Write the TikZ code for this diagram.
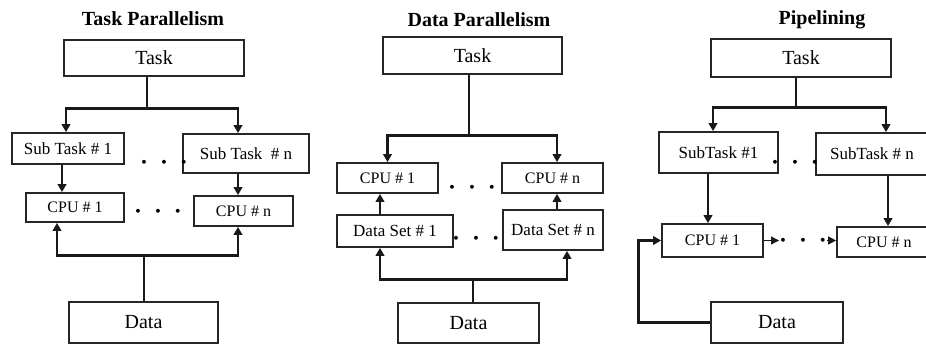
\documentclass[tikz,border=0pt]{standalone}
\usepackage{fontspec}
\setmainfont{Liberation Serif}
\usetikzlibrary{arrows.meta}
\newcommand{\threedots}{$\cdot\hspace{5.5pt}\cdot\hspace{5.5pt}\cdot$}
\begin{document}
\begin{tikzpicture}[x=1pt,y=-1pt,
  box/.style={draw=black!85,line width=1.7pt,inner sep=0pt,fill=white},
  big/.style={font=\fontsize{20}{22}\selectfont},
  mid/.style={font=\fontsize{17}{19}\selectfont},
  sml/.style={font=\fontsize{16}{18}\selectfont},
  ttl/.style={font=\bfseries\fontsize{20}{22}\selectfont,inner sep=0pt},
  conn/.style={line width=2.8pt,black!90},
  arr/.style={-{Triangle[length=8pt,width=8.5pt]}},
  thinarr/.style={line width=1.1pt,black!90,-{Triangle[length=8pt,width=8pt]}},
  dotsn/.style={inner sep=0pt,minimum width=36pt,font=\fontsize{28}{28}\selectfont\boldmath}
]
\useasboundingbox (0,0) rectangle (926,345);

% ---------------- Panel 1: Task Parallelism ----------------
\node[ttl] (t1) at (153,19) {Task Parallelism};
\node[box,big,minimum width=180pt,minimum height=36pt] (task1) at (154,58) {Task};
\node[box,mid,minimum width=112pt,minimum height=31pt] (sub1) at (68,148.5) {Sub Task \# 1};
\node[box,mid,minimum width=126pt,minimum height=39pt] (subn) at (246,153.5) {Sub Task \ \# n};
\node[box,sml,minimum width=98pt,minimum height=29pt] (cpu1) at (75,207.5) {CPU \# 1};
\node[box,sml,minimum width=99pt,minimum height=30pt] (cpun) at (243.5,211) {CPU \# n};
\node[box,big,minimum width=149pt,minimum height=41pt] (data1) at (143.5,322.5) {Data};
\node[dotsn] (d1a) at (164,163) {\threedots};
\node[dotsn] (d1b) at (158,212) {\threedots};

\draw[conn] ([xshift=-7pt]task1.south) -- ++(0,32) coordinate (j1);
\draw[conn,arr] (j1) -| ([xshift=-2pt]sub1.north);
\draw[conn,arr] (j1) -| ([xshift=-8pt]subn.north);
\draw[conn,arr] ([xshift=-6pt]sub1.south) -- ([xshift=-6pt]sub1.south |- cpu1.north);
\draw[conn,arr] ([xshift=-8pt]subn.south) -- ([xshift=-8pt]subn.south |- cpun.north);
\draw[line width=1.3pt,black!90] ([xshift=0.5pt]data1.north) -- ++(0,-46) coordinate (j2);
\draw[conn,arr] (j2) -| ([xshift=-18pt]cpu1.south);
\draw[conn,arr] (j2) -| ([xshift=-5.5pt]cpun.south);

% ---------------- Panel 2: Data Parallelism ----------------
\node[ttl] (t2) at (479,20) {Data Parallelism};
\node[box,big,minimum width=179pt,minimum height=37pt] (task2) at (472.5,55.5) {Task};
\node[box,sml,minimum width=101pt,minimum height=30pt] (cpu1b) at (387.5,178) {CPU \# 1};
\node[box,sml,minimum width=101pt,minimum height=30pt] (cpunb) at (552.5,178) {CPU \# n};
\node[box,mid,minimum width=116pt,minimum height=32pt] (ds1) at (395,231) {Data Set \# 1};
\node[box,mid,minimum width=100pt,minimum height=40pt] (dsn) at (553,230) {Data Set \# n};
\node[box,big,minimum width=141pt,minimum height=40pt] (data2) at (468.5,323) {Data};
\node[dotsn] (d2a) at (472,188) {\threedots};
\node[dotsn] (d2b) at (476,239) {\threedots};

\draw[conn] ([xshift=-3.5pt]task2.south) -- ++(0,61) coordinate (j3);
\draw[conn,arr] (j3) -| (cpu1b.north);
\draw[conn,arr] (j3) -| ([xshift=4.5pt]cpunb.north);
\draw[conn,arr] ([xshift=-15pt]ds1.north) -- ([xshift=-15pt]ds1.north |- cpu1b.south);
\draw[conn,arr] ([xshift=4pt]dsn.north) -- ([xshift=4pt]dsn.north |- cpunb.south);
\draw[conn] ([xshift=4.5pt]data2.north) -- ++(0,-23) coordinate (j4);
\draw[conn,arr] (j4) -| ([xshift=-15pt]ds1.south);
\draw[conn,arr] (j4) -| ([xshift=14pt]dsn.south);

% ---------------- Panel 3: Pipelining ----------------
\node[ttl] (t3) at (822,20) {Pipelining};
\node[box,big,minimum width=180pt,minimum height=38pt] (task3) at (801,58) {Task};
\node[box,mid,minimum width=119pt,minimum height=41pt] (sub13) at (718.5,152.5) {SubTask \#1};
\node[box,mid,minimum width=112pt,minimum height=42pt] (subn3) at (872,154) {SubTask \# n};
\node[box,sml,minimum width=101pt,minimum height=33pt] (cpu13) at (712.5,240.5) {CPU \# 1};
\node[box,sml,minimum width=94pt,minimum height=30pt] (cpun3) at (884,242) {CPU \# n};
\node[box,big,minimum width=132pt,minimum height=41pt] (data3) at (777,322.5) {Data};
\node[dotsn] (d3a) at (795,163) {\threedots};
\node[dotsn,minimum width=38pt] (d3b) at (803,240.5) {\threedots};

\draw[conn] ([xshift=-5pt]task3.south) -- ++(0,30) coordinate (j5);
\draw[conn,arr] (j5) -| ([xshift=-5.5pt]sub13.north);
\draw[conn,arr] (j5) -| ([xshift=14pt]subn3.north);
\draw[conn,arr] ([xshift=-10.5pt]sub13.south) -- ([xshift=-10.5pt]sub13.south |- cpu13.north);
\draw[conn,arr] ([xshift=16pt]subn3.south) -- ([xshift=16pt]subn3.south |- cpun3.north);
\draw[thinarr] (cpu13.east) -- (d3b.west);
\draw[thinarr] (d3b.east) -- (cpun3.west |- d3b.east);
\draw[conn,arr] (data3.west) -- ++(-72,0) |- (cpu13.west);
\end{tikzpicture}
\end{document}
